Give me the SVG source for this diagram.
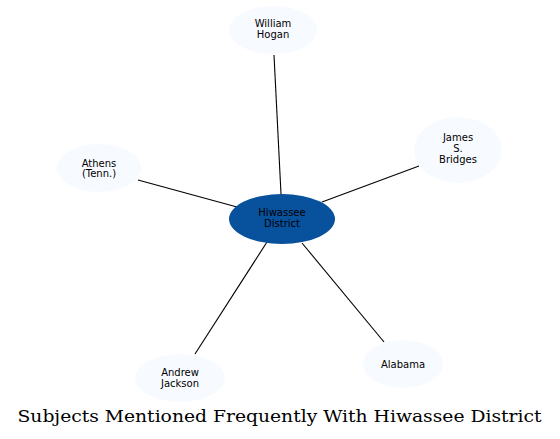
<svg xmlns="http://www.w3.org/2000/svg" width="560" height="439" viewBox="0 0 560 439">
<style>
.n{fill:#f7fbff;stroke:none}
.c{fill:#08519c;stroke:none}
.t{font-family:"DejaVu Sans",sans-serif;font-size:10px;fill:#000;text-anchor:middle}
.e{stroke:#000;stroke-width:1.1;fill:none}
.title{font-family:"DejaVu Serif",serif;font-size:16.5px;fill:#000;text-anchor:middle}
</style>
<rect width="560" height="439" fill="#fff"/>
<g id="edges">
<line class="e" x1="281" y1="194" x2="274" y2="55"/>
<line class="e" x1="322" y1="202" x2="419" y2="166"/>
<line class="e" x1="237" y1="207" x2="138" y2="180"/>
<line class="e" x1="267" y1="242" x2="195" y2="354"/>
<line class="e" x1="302" y1="243" x2="384" y2="342"/>
</g>
<g id="hiwassee">
<ellipse class="c" cx="282" cy="219" rx="53" ry="25"/>
<text class="t" x="282" y="216">Hiwassee</text>
<text class="t" x="282" y="227">District</text>
</g>
<g id="hogan">
<ellipse class="n" cx="273" cy="30" rx="44" ry="24"/>
<text class="t" x="273" y="27">William</text>
<text class="t" x="273" y="38">Hogan</text>
</g>
<g id="bridges">
<ellipse class="n" cx="458" cy="150" rx="44" ry="33"/>
<text class="t" x="458" y="141">James</text>
<text class="t" x="458" y="152">S.</text>
<text class="t" x="458" y="163">Bridges</text>
</g>
<g id="athens">
<ellipse class="n" cx="99" cy="168" rx="42" ry="24"/>
<text class="t" x="99" y="166.5">Athens</text>
<text class="t" x="99" y="177">(Tenn.)</text>
</g>
<g id="jackson">
<ellipse class="n" cx="180" cy="378" rx="45" ry="24"/>
<text class="t" x="180" y="376">Andrew</text>
<text class="t" x="180" y="387">Jackson</text>
</g>
<g id="alabama">
<ellipse class="n" cx="403" cy="364" rx="40" ry="24"/>
<text class="t" x="403" y="368">Alabama</text>
</g>
<text class="title" x="279.5" y="422" textLength="524" lengthAdjust="spacingAndGlyphs">Subjects Mentioned Frequently With Hiwassee District</text>
</svg>
